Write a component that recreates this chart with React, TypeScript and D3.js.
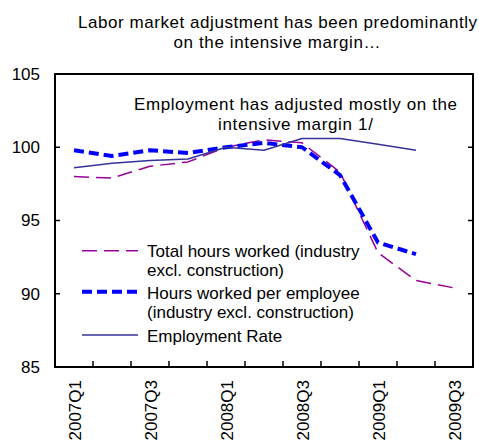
import React from "react";
import * as d3 from "d3";

const categories = ["2007Q1","2007Q2","2007Q3","2007Q4","2008Q1","2008Q2","2008Q3","2008Q4","2009Q1","2009Q2","2009Q3"];
const tickLabelIdx = [0, 2, 4, 6, 8, 10];
const totalHours: (number | null)[] = [98.0, 97.9, 98.7, 99.0, 100.0, 100.5, 100.3, 98.3, 92.8, 90.9, 90.4];
const hoursPerEmployee: (number | null)[] = [99.8, 99.4, 99.8, 99.6, 100.0, 100.3, 100.0, 98.1, 93.5, 92.7, null];
const employmentRate: (number | null)[] = [98.6, 98.9, 99.1, 99.2, 100.0, 99.8, 100.6, 100.6, 100.2, 99.8, null];
const yTicks = [85, 90, 95, 100, 105];

const FONT = "'Liberation Sans', Arial, sans-serif";

const series = [
  { name: ["Total hours worked (industry", "excl. construction)"], values: totalHours, color: "#990099", width: 1.5, dash: "15,7" },
  { name: ["Hours worked per employee", "(industry excl. construction)"], values: hoursPerEmployee, color: "#0000ff", width: 4, dash: "10,5" },
  { name: ["Employment Rate"], values: employmentRate, color: "#333399", width: 1.5, dash: "" },
];

export default function App() {
  const L = 55, R = 473, T = 74, B = 367;
  const x = d3.scaleBand<string>().domain(categories).range([L, R]).padding(0);
  const bw = x.bandwidth();
  const cx = (c: string) => (x(c) as number) + bw / 2;
  const y = d3.scaleLinear().domain([85, 105]).range([B, T]);
  const line = d3.line<number | null>()
    .defined(d => d != null)
    .x((_, i) => cx(categories[i]))
    .y(d => y(d as number));

  const legendY = [[250.7, [257, 276]], [291.7, [299, 317.5]], [335, [341.5]]] as [number, number[]][];

  return (
    <svg width={479} height={444} style={{ position: "absolute", left: 0, top: 0, background: "#fff" }} fontFamily={FONT}>
      <rect x={0} y={0} width={479} height={444} fill="#fff" />
      {/* Title */}
      <text x={277.5} y={28} fontSize={17} textAnchor="middle" fill="#000" textLength={399} lengthAdjust="spacing">Labor market adjustment has been predominantly</text>
      <text x={277} y={47.5} fontSize={17} textAnchor="middle" fill="#000" textLength={207} lengthAdjust="spacing">on the intensive margin…</text>

      {/* series lines */}
      <g clipPath="url(#clip)">
        {series.map((s, i) => (
          <path key={i} d={line(s.values) || ""} fill="none" stroke={s.color} strokeWidth={s.width}
            strokeDasharray={s.dash || undefined} strokeLinejoin="round" />
        ))}
      </g>

      {/* frame */}
      <rect x={L} y={T} width={R - L} height={B - T} fill="none" stroke="#000" strokeWidth={2} />
      {/* y ticks (inward both sides) */}
      {yTicks.map(v => (
        <g key={v}>
          <line x1={L} x2={L + 5} y1={y(v)} y2={y(v)} stroke="#000" strokeWidth={1.5} />
          <line x1={R - 5} x2={R} y1={y(v)} y2={y(v)} stroke="#000" strokeWidth={1.5} />
          <text x={40} y={y(v)} dy="0.35em" fontSize={17} textAnchor="end" fill="#000">{v}</text>
        </g>
      ))}
      {/* x ticks */}
      {categories.slice(1).map(c => (
        <line key={c} x1={x(c) as number} x2={x(c) as number} y1={B} y2={B - 6} stroke="#000" strokeWidth={1.5} />
      ))}
      {tickLabelIdx.map(i => (
        <text key={i} transform={`translate(${cx(categories[i]) + 1},380) rotate(-90)`} dy="0.35em" fontSize={17} textAnchor="end" fill="#000">{categories[i]}</text>
      ))}

      {/* annotation */}
      <text x={295.5} y={110} fontSize={17} textAnchor="middle" fill="#000" textLength={323} lengthAdjust="spacing">Employment has adjusted mostly on the</text>
      <text x={295.5} y={130} fontSize={17} textAnchor="middle" fill="#000" textLength={155} lengthAdjust="spacing">intensive margin 1/</text>

      {/* legend */}
      {series.map((s, i) => (
        <g key={i}>
          <line x1={82} x2={138} y1={legendY[i][0]} y2={legendY[i][0]} stroke={s.color} strokeWidth={s.width} strokeDasharray={s.dash || undefined} />
          {s.name.map((t, j) => (
            <text key={j} x={147} y={legendY[i][1][j]} fontSize={17} fill="#000">{t}</text>
          ))}
        </g>
      ))}
      <defs>
        <clipPath id="clip"><rect x={L} y={T} width={R - L} height={B - T} /></clipPath>
      </defs>
    </svg>
  );
}
